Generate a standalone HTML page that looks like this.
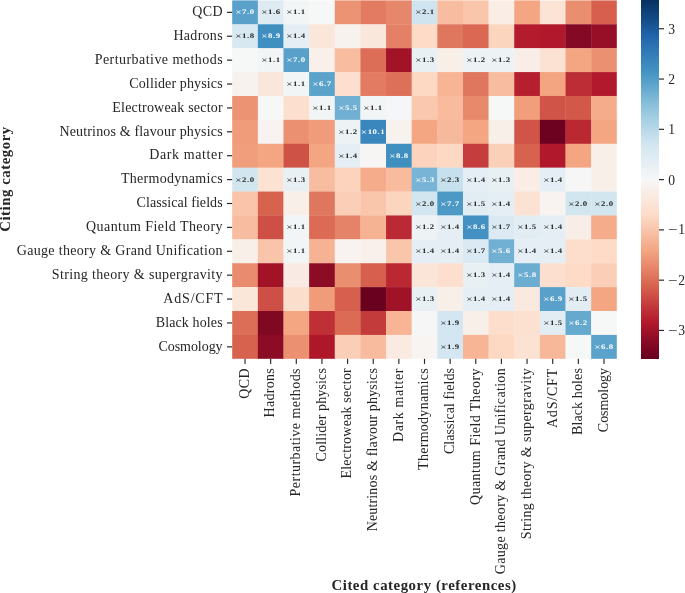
<!DOCTYPE html>
<html><head><meta charset="utf-8"><title>heatmap</title>
<style>
html,body{margin:0;padding:0;background:#fff;}
#tx{position:absolute;left:0;top:0;width:685px;height:593px;will-change:opacity;opacity:0.999;}
body{width:685px;height:593px;position:relative;overflow:hidden;font-family:"Liberation Serif",serif;color:#262626;}
.yl{position:absolute;right:462.4px;white-space:nowrap;font-size:14px;line-height:16px;height:16px;transform-origin:100% 50%;}
.xl{position:absolute;white-space:nowrap;font-size:14px;line-height:16px;height:16px;transform-origin:0 0;}
.an{position:absolute;white-space:nowrap;font-size:7px;font-weight:bold;line-height:10px;height:10px;width:26px;text-align:center;letter-spacing:0.4px;transform:rotate(0.05deg) scale(1.26,1);}
.an .x{font-weight:normal;font-size:8.8px;line-height:0;position:relative;top:1.1px;}
.cbl{position:absolute;left:668.2px;white-space:nowrap;font-size:13.6px;line-height:16px;height:16px;}
.mn{display:inline-block;transform:scaleX(1.25);transform-origin:0 50%;margin-right:2.3px;}
.ttl{position:absolute;white-space:nowrap;font-size:14.8px;font-weight:bold;line-height:16px;height:16px;letter-spacing:0.55px;}
</style></head><body>

<svg width="685" height="593" viewBox="0 0 685 593" style="position:absolute;left:0;top:0" shape-rendering="geometricPrecision">
<rect x="232.20" y="0.40" width="25.94" height="24.19" fill="#59a1ca"/>
<rect x="257.84" y="0.40" width="25.94" height="24.19" fill="#deebf2"/>
<rect x="283.48" y="0.40" width="25.94" height="24.19" fill="#f2f5f6"/>
<rect x="309.12" y="0.40" width="25.94" height="24.19" fill="#f6f7f7"/>
<rect x="334.76" y="0.40" width="25.94" height="24.19" fill="#ec9374"/>
<rect x="360.40" y="0.40" width="25.94" height="24.19" fill="#e27b62"/>
<rect x="386.04" y="0.40" width="25.94" height="24.19" fill="#e6866a"/>
<rect x="411.68" y="0.40" width="25.94" height="24.19" fill="#cfe4ef"/>
<rect x="437.32" y="0.40" width="25.94" height="24.19" fill="#f8bda1"/>
<rect x="462.96" y="0.40" width="25.94" height="24.19" fill="#f9c6ac"/>
<rect x="488.60" y="0.40" width="25.94" height="24.19" fill="#f9ede5"/>
<rect x="514.24" y="0.40" width="25.94" height="24.19" fill="#f4a683"/>
<rect x="539.88" y="0.40" width="25.94" height="24.19" fill="#fbe4d6"/>
<rect x="565.52" y="0.40" width="25.94" height="24.19" fill="#ea8e70"/>
<rect x="591.16" y="0.40" width="25.64" height="24.19" fill="#d6604d"/>
<rect x="232.20" y="24.29" width="25.94" height="24.19" fill="#d7e8f1"/>
<rect x="257.84" y="24.29" width="25.94" height="24.19" fill="#408fc1"/>
<rect x="283.48" y="24.29" width="25.94" height="24.19" fill="#e4eef4"/>
<rect x="309.12" y="24.29" width="25.94" height="24.19" fill="#fbe6da"/>
<rect x="334.76" y="24.29" width="25.94" height="24.19" fill="#f8f2ef"/>
<rect x="360.40" y="24.29" width="25.94" height="24.19" fill="#fae7dc"/>
<rect x="386.04" y="24.29" width="25.94" height="24.19" fill="#e48066"/>
<rect x="411.68" y="24.29" width="25.94" height="24.19" fill="#fddbc7"/>
<rect x="437.32" y="24.29" width="25.94" height="24.19" fill="#df765e"/>
<rect x="462.96" y="24.29" width="25.94" height="24.19" fill="#da6853"/>
<rect x="488.60" y="24.29" width="25.94" height="24.19" fill="#fcd5bf"/>
<rect x="514.24" y="24.29" width="25.94" height="24.19" fill="#b41c2d"/>
<rect x="539.88" y="24.29" width="25.94" height="24.19" fill="#b1182b"/>
<rect x="565.52" y="24.29" width="25.94" height="24.19" fill="#840924"/>
<rect x="591.16" y="24.29" width="25.64" height="24.19" fill="#960f27"/>
<rect x="232.20" y="48.19" width="25.94" height="24.19" fill="#f6f7f7"/>
<rect x="257.84" y="48.19" width="25.94" height="24.19" fill="#f2f5f6"/>
<rect x="283.48" y="48.19" width="25.94" height="24.19" fill="#59a1ca"/>
<rect x="309.12" y="48.19" width="25.94" height="24.19" fill="#f9f0eb"/>
<rect x="334.76" y="48.19" width="25.94" height="24.19" fill="#f8bda1"/>
<rect x="360.40" y="48.19" width="25.94" height="24.19" fill="#dc6e57"/>
<rect x="386.04" y="48.19" width="25.94" height="24.19" fill="#a21328"/>
<rect x="411.68" y="48.19" width="25.94" height="24.19" fill="#e9f0f4"/>
<rect x="437.32" y="48.19" width="25.94" height="24.19" fill="#f9efe9"/>
<rect x="462.96" y="48.19" width="25.94" height="24.19" fill="#edf2f5"/>
<rect x="488.60" y="48.19" width="25.94" height="24.19" fill="#edf2f5"/>
<rect x="514.24" y="48.19" width="25.94" height="24.19" fill="#f9eee7"/>
<rect x="539.88" y="48.19" width="25.94" height="24.19" fill="#fce2d2"/>
<rect x="565.52" y="48.19" width="25.94" height="24.19" fill="#f4a683"/>
<rect x="591.16" y="48.19" width="25.64" height="24.19" fill="#eb9172"/>
<rect x="232.20" y="72.08" width="25.94" height="24.19" fill="#f8f2ef"/>
<rect x="257.84" y="72.08" width="25.94" height="24.19" fill="#fae7dc"/>
<rect x="283.48" y="72.08" width="25.94" height="24.19" fill="#f2f5f6"/>
<rect x="309.12" y="72.08" width="25.94" height="24.19" fill="#5ca3cb"/>
<rect x="334.76" y="72.08" width="25.94" height="24.19" fill="#fcdfcf"/>
<rect x="360.40" y="72.08" width="25.94" height="24.19" fill="#e27b62"/>
<rect x="386.04" y="72.08" width="25.94" height="24.19" fill="#dd7059"/>
<rect x="411.68" y="72.08" width="25.94" height="24.19" fill="#fdd9c4"/>
<rect x="437.32" y="72.08" width="25.94" height="24.19" fill="#f7b596"/>
<rect x="462.96" y="72.08" width="25.94" height="24.19" fill="#df765e"/>
<rect x="488.60" y="72.08" width="25.94" height="24.19" fill="#f8bda1"/>
<rect x="514.24" y="72.08" width="25.94" height="24.19" fill="#b61f2e"/>
<rect x="539.88" y="72.08" width="25.94" height="24.19" fill="#f3a481"/>
<rect x="565.52" y="72.08" width="25.94" height="24.19" fill="#bd2d35"/>
<rect x="591.16" y="72.08" width="25.64" height="24.19" fill="#b3192c"/>
<rect x="232.20" y="95.97" width="25.94" height="24.19" fill="#ec9374"/>
<rect x="257.84" y="95.97" width="25.94" height="24.19" fill="#f6f7f7"/>
<rect x="283.48" y="95.97" width="25.94" height="24.19" fill="#fcdfcf"/>
<rect x="309.12" y="95.97" width="25.94" height="24.19" fill="#f2f5f6"/>
<rect x="334.76" y="95.97" width="25.94" height="24.19" fill="#71b0d3"/>
<rect x="360.40" y="95.97" width="25.94" height="24.19" fill="#f2f5f6"/>
<rect x="386.04" y="95.97" width="25.94" height="24.19" fill="#f5f6f7"/>
<rect x="411.68" y="95.97" width="25.94" height="24.19" fill="#fac8af"/>
<rect x="437.32" y="95.97" width="25.94" height="24.19" fill="#f8bb9e"/>
<rect x="462.96" y="95.97" width="25.94" height="24.19" fill="#e8896c"/>
<rect x="488.60" y="95.97" width="25.94" height="24.19" fill="#f6f7f7"/>
<rect x="514.24" y="95.97" width="25.94" height="24.19" fill="#f19e7d"/>
<rect x="539.88" y="95.97" width="25.94" height="24.19" fill="#d05548"/>
<rect x="565.52" y="95.97" width="25.94" height="24.19" fill="#d25849"/>
<rect x="591.16" y="95.97" width="25.64" height="24.19" fill="#f5ac8b"/>
<rect x="232.20" y="119.87" width="25.94" height="24.19" fill="#f09c7b"/>
<rect x="257.84" y="119.87" width="25.94" height="24.19" fill="#f8f3f0"/>
<rect x="283.48" y="119.87" width="25.94" height="24.19" fill="#eb9172"/>
<rect x="309.12" y="119.87" width="25.94" height="24.19" fill="#f09c7b"/>
<rect x="334.76" y="119.87" width="25.94" height="24.19" fill="#edf2f5"/>
<rect x="360.40" y="119.87" width="25.94" height="24.19" fill="#3a87bd"/>
<rect x="386.04" y="119.87" width="25.94" height="24.19" fill="#f8f2ef"/>
<rect x="411.68" y="119.87" width="25.94" height="24.19" fill="#f4a683"/>
<rect x="437.32" y="119.87" width="25.94" height="24.19" fill="#f7b99c"/>
<rect x="462.96" y="119.87" width="25.94" height="24.19" fill="#f4a683"/>
<rect x="488.60" y="119.87" width="25.94" height="24.19" fill="#f9efe9"/>
<rect x="514.24" y="119.87" width="25.94" height="24.19" fill="#d05548"/>
<rect x="539.88" y="119.87" width="25.94" height="24.19" fill="#6d0220"/>
<rect x="565.52" y="119.87" width="25.94" height="24.19" fill="#ba2832"/>
<rect x="591.16" y="119.87" width="25.64" height="24.19" fill="#f4a683"/>
<rect x="232.20" y="143.76" width="25.94" height="24.19" fill="#f19e7d"/>
<rect x="257.84" y="143.76" width="25.94" height="24.19" fill="#f4a683"/>
<rect x="283.48" y="143.76" width="25.94" height="24.19" fill="#cf5246"/>
<rect x="309.12" y="143.76" width="25.94" height="24.19" fill="#f4a683"/>
<rect x="334.76" y="143.76" width="25.94" height="24.19" fill="#e4eef4"/>
<rect x="360.40" y="143.76" width="25.94" height="24.19" fill="#f7f5f4"/>
<rect x="386.04" y="143.76" width="25.94" height="24.19" fill="#408fc1"/>
<rect x="411.68" y="143.76" width="25.94" height="24.19" fill="#fcd3bc"/>
<rect x="437.32" y="143.76" width="25.94" height="24.19" fill="#fdd9c4"/>
<rect x="462.96" y="143.76" width="25.94" height="24.19" fill="#c53e3d"/>
<rect x="488.60" y="143.76" width="25.94" height="24.19" fill="#fbd0b9"/>
<rect x="514.24" y="143.76" width="25.94" height="24.19" fill="#d7634f"/>
<rect x="539.88" y="143.76" width="25.94" height="24.19" fill="#b1182b"/>
<rect x="565.52" y="143.76" width="25.94" height="24.19" fill="#f4a683"/>
<rect x="591.16" y="143.76" width="25.64" height="24.19" fill="#f9efe9"/>
<rect x="232.20" y="167.65" width="25.94" height="24.19" fill="#d2e6f0"/>
<rect x="257.84" y="167.65" width="25.94" height="24.19" fill="#fce2d2"/>
<rect x="283.48" y="167.65" width="25.94" height="24.19" fill="#e9f0f4"/>
<rect x="309.12" y="167.65" width="25.94" height="24.19" fill="#f8bda1"/>
<rect x="334.76" y="167.65" width="25.94" height="24.19" fill="#fcd3bc"/>
<rect x="360.40" y="167.65" width="25.94" height="24.19" fill="#f5ac8b"/>
<rect x="386.04" y="167.65" width="25.94" height="24.19" fill="#f8bb9e"/>
<rect x="411.68" y="167.65" width="25.94" height="24.19" fill="#78b4d5"/>
<rect x="437.32" y="167.65" width="25.94" height="24.19" fill="#c7e0ed"/>
<rect x="462.96" y="167.65" width="25.94" height="24.19" fill="#e4eef4"/>
<rect x="488.60" y="167.65" width="25.94" height="24.19" fill="#e9f0f4"/>
<rect x="514.24" y="167.65" width="25.94" height="24.19" fill="#f9ede5"/>
<rect x="539.88" y="167.65" width="25.94" height="24.19" fill="#e4eef4"/>
<rect x="565.52" y="167.65" width="25.94" height="24.19" fill="#f7f6f6"/>
<rect x="591.16" y="167.65" width="25.64" height="24.19" fill="#f9efe9"/>
<rect x="232.20" y="191.55" width="25.94" height="24.19" fill="#f9c4a9"/>
<rect x="257.84" y="191.55" width="25.94" height="24.19" fill="#d7634f"/>
<rect x="283.48" y="191.55" width="25.94" height="24.19" fill="#f9efe9"/>
<rect x="309.12" y="191.55" width="25.94" height="24.19" fill="#df765e"/>
<rect x="334.76" y="191.55" width="25.94" height="24.19" fill="#fbceb7"/>
<rect x="360.40" y="191.55" width="25.94" height="24.19" fill="#f9c6ac"/>
<rect x="386.04" y="191.55" width="25.94" height="24.19" fill="#fcd5bf"/>
<rect x="411.68" y="191.55" width="25.94" height="24.19" fill="#d2e6f0"/>
<rect x="437.32" y="191.55" width="25.94" height="24.19" fill="#4c99c6"/>
<rect x="462.96" y="191.55" width="25.94" height="24.19" fill="#e1edf3"/>
<rect x="488.60" y="191.55" width="25.94" height="24.19" fill="#e4eef4"/>
<rect x="514.24" y="191.55" width="25.94" height="24.19" fill="#fce2d2"/>
<rect x="539.88" y="191.55" width="25.94" height="24.19" fill="#f8f3f0"/>
<rect x="565.52" y="191.55" width="25.94" height="24.19" fill="#d2e6f0"/>
<rect x="591.16" y="191.55" width="25.64" height="24.19" fill="#d2e6f0"/>
<rect x="232.20" y="215.44" width="25.94" height="24.19" fill="#f8bda1"/>
<rect x="257.84" y="215.44" width="25.94" height="24.19" fill="#ce4f45"/>
<rect x="283.48" y="215.44" width="25.94" height="24.19" fill="#f2f5f6"/>
<rect x="309.12" y="215.44" width="25.94" height="24.19" fill="#db6b55"/>
<rect x="334.76" y="215.44" width="25.94" height="24.19" fill="#e58368"/>
<rect x="360.40" y="215.44" width="25.94" height="24.19" fill="#f6b394"/>
<rect x="386.04" y="215.44" width="25.94" height="24.19" fill="#bb2a34"/>
<rect x="411.68" y="215.44" width="25.94" height="24.19" fill="#edf2f5"/>
<rect x="437.32" y="215.44" width="25.94" height="24.19" fill="#e4eef4"/>
<rect x="462.96" y="215.44" width="25.94" height="24.19" fill="#4291c2"/>
<rect x="488.60" y="215.44" width="25.94" height="24.19" fill="#dae9f2"/>
<rect x="514.24" y="215.44" width="25.94" height="24.19" fill="#e1edf3"/>
<rect x="539.88" y="215.44" width="25.94" height="24.19" fill="#e4eef4"/>
<rect x="565.52" y="215.44" width="25.94" height="24.19" fill="#f9eee7"/>
<rect x="591.16" y="215.44" width="25.64" height="24.19" fill="#f5ac8b"/>
<rect x="232.20" y="239.33" width="25.94" height="24.19" fill="#f9efe9"/>
<rect x="257.84" y="239.33" width="25.94" height="24.19" fill="#f9c4a9"/>
<rect x="283.48" y="239.33" width="25.94" height="24.19" fill="#f2f5f6"/>
<rect x="309.12" y="239.33" width="25.94" height="24.19" fill="#f6b394"/>
<rect x="334.76" y="239.33" width="25.94" height="24.19" fill="#f8f3f0"/>
<rect x="360.40" y="239.33" width="25.94" height="24.19" fill="#f9f0eb"/>
<rect x="386.04" y="239.33" width="25.94" height="24.19" fill="#f9c6ac"/>
<rect x="411.68" y="239.33" width="25.94" height="24.19" fill="#e4eef4"/>
<rect x="437.32" y="239.33" width="25.94" height="24.19" fill="#e4eef4"/>
<rect x="462.96" y="239.33" width="25.94" height="24.19" fill="#dae9f2"/>
<rect x="488.60" y="239.33" width="25.94" height="24.19" fill="#71b0d3"/>
<rect x="514.24" y="239.33" width="25.94" height="24.19" fill="#e4eef4"/>
<rect x="539.88" y="239.33" width="25.94" height="24.19" fill="#e4eef4"/>
<rect x="565.52" y="239.33" width="25.94" height="24.19" fill="#fdddcb"/>
<rect x="591.16" y="239.33" width="25.64" height="24.19" fill="#fddbc7"/>
<rect x="232.20" y="263.23" width="25.94" height="24.19" fill="#e98b6e"/>
<rect x="257.84" y="263.23" width="25.94" height="24.19" fill="#a21328"/>
<rect x="283.48" y="263.23" width="25.94" height="24.19" fill="#f9ebe3"/>
<rect x="309.12" y="263.23" width="25.94" height="24.19" fill="#8d0c25"/>
<rect x="334.76" y="263.23" width="25.94" height="24.19" fill="#ea8e70"/>
<rect x="360.40" y="263.23" width="25.94" height="24.19" fill="#d6604d"/>
<rect x="386.04" y="263.23" width="25.94" height="24.19" fill="#ba2832"/>
<rect x="411.68" y="263.23" width="25.94" height="24.19" fill="#fbe5d8"/>
<rect x="437.32" y="263.23" width="25.94" height="24.19" fill="#fcdfcf"/>
<rect x="462.96" y="263.23" width="25.94" height="24.19" fill="#e9f0f4"/>
<rect x="488.60" y="263.23" width="25.94" height="24.19" fill="#e4eef4"/>
<rect x="514.24" y="263.23" width="25.94" height="24.19" fill="#6bacd1"/>
<rect x="539.88" y="263.23" width="25.94" height="24.19" fill="#fcdfcf"/>
<rect x="565.52" y="263.23" width="25.94" height="24.19" fill="#fddbc7"/>
<rect x="591.16" y="263.23" width="25.64" height="24.19" fill="#fbceb7"/>
<rect x="232.20" y="287.12" width="25.94" height="24.19" fill="#fbe6da"/>
<rect x="257.84" y="287.12" width="25.94" height="24.19" fill="#ce4f45"/>
<rect x="283.48" y="287.12" width="25.94" height="24.19" fill="#fcdecd"/>
<rect x="309.12" y="287.12" width="25.94" height="24.19" fill="#f09c7b"/>
<rect x="334.76" y="287.12" width="25.94" height="24.19" fill="#d6604d"/>
<rect x="360.40" y="287.12" width="25.94" height="24.19" fill="#6a011f"/>
<rect x="386.04" y="287.12" width="25.94" height="24.19" fill="#9f1228"/>
<rect x="411.68" y="287.12" width="25.94" height="24.19" fill="#e9f0f4"/>
<rect x="437.32" y="287.12" width="25.94" height="24.19" fill="#f9efe9"/>
<rect x="462.96" y="287.12" width="25.94" height="24.19" fill="#e4eef4"/>
<rect x="488.60" y="287.12" width="25.94" height="24.19" fill="#e4eef4"/>
<rect x="514.24" y="287.12" width="25.94" height="24.19" fill="#fae9df"/>
<rect x="539.88" y="287.12" width="25.94" height="24.19" fill="#59a1ca"/>
<rect x="565.52" y="287.12" width="25.94" height="24.19" fill="#e1edf3"/>
<rect x="591.16" y="287.12" width="25.64" height="24.19" fill="#f4a683"/>
<rect x="232.20" y="311.01" width="25.94" height="24.19" fill="#dc6e57"/>
<rect x="257.84" y="311.01" width="25.94" height="24.19" fill="#810823"/>
<rect x="283.48" y="311.01" width="25.94" height="24.19" fill="#f4a683"/>
<rect x="309.12" y="311.01" width="25.94" height="24.19" fill="#be3036"/>
<rect x="334.76" y="311.01" width="25.94" height="24.19" fill="#db6b55"/>
<rect x="360.40" y="311.01" width="25.94" height="24.19" fill="#c43b3c"/>
<rect x="386.04" y="311.01" width="25.94" height="24.19" fill="#f7b596"/>
<rect x="411.68" y="311.01" width="25.94" height="24.19" fill="#f7f6f6"/>
<rect x="437.32" y="311.01" width="25.94" height="24.19" fill="#d4e6f1"/>
<rect x="462.96" y="311.01" width="25.94" height="24.19" fill="#f9efe9"/>
<rect x="488.60" y="311.01" width="25.94" height="24.19" fill="#fdddcb"/>
<rect x="514.24" y="311.01" width="25.94" height="24.19" fill="#fce0d0"/>
<rect x="539.88" y="311.01" width="25.94" height="24.19" fill="#e1edf3"/>
<rect x="565.52" y="311.01" width="25.94" height="24.19" fill="#65a9cf"/>
<rect x="591.16" y="311.01" width="25.64" height="24.19" fill="#f6f7f7"/>
<rect x="232.20" y="334.91" width="25.94" height="23.89" fill="#d7634f"/>
<rect x="257.84" y="334.91" width="25.94" height="23.89" fill="#8d0c25"/>
<rect x="283.48" y="334.91" width="25.94" height="23.89" fill="#eb9172"/>
<rect x="309.12" y="334.91" width="25.94" height="23.89" fill="#ae172a"/>
<rect x="334.76" y="334.91" width="25.94" height="23.89" fill="#fbceb7"/>
<rect x="360.40" y="334.91" width="25.94" height="23.89" fill="#f8bb9e"/>
<rect x="386.04" y="334.91" width="25.94" height="23.89" fill="#faeae1"/>
<rect x="411.68" y="334.91" width="25.94" height="23.89" fill="#f8f4f2"/>
<rect x="437.32" y="334.91" width="25.94" height="23.89" fill="#d4e6f1"/>
<rect x="462.96" y="334.91" width="25.94" height="23.89" fill="#f7b596"/>
<rect x="488.60" y="334.91" width="25.94" height="23.89" fill="#fdd9c4"/>
<rect x="514.24" y="334.91" width="25.94" height="23.89" fill="#fce2d2"/>
<rect x="539.88" y="334.91" width="25.94" height="23.89" fill="#f7b799"/>
<rect x="565.52" y="334.91" width="25.94" height="23.89" fill="#f6f7f7"/>
<rect x="591.16" y="334.91" width="25.64" height="23.89" fill="#5ca3cb"/>
<rect x="227.0" y="11.77" width="5.1" height="1.15" fill="#262626" shape-rendering="geometricPrecision"/>
<rect x="244.44" y="358.80" width="1.15" height="5.1" fill="#262626" shape-rendering="geometricPrecision"/>
<rect x="227.0" y="35.66" width="5.1" height="1.15" fill="#262626" shape-rendering="geometricPrecision"/>
<rect x="270.08" y="358.80" width="1.15" height="5.1" fill="#262626" shape-rendering="geometricPrecision"/>
<rect x="227.0" y="59.56" width="5.1" height="1.15" fill="#262626" shape-rendering="geometricPrecision"/>
<rect x="295.72" y="358.80" width="1.15" height="5.1" fill="#262626" shape-rendering="geometricPrecision"/>
<rect x="227.0" y="83.45" width="5.1" height="1.15" fill="#262626" shape-rendering="geometricPrecision"/>
<rect x="321.37" y="358.80" width="1.15" height="5.1" fill="#262626" shape-rendering="geometricPrecision"/>
<rect x="227.0" y="107.35" width="5.1" height="1.15" fill="#262626" shape-rendering="geometricPrecision"/>
<rect x="347.00" y="358.80" width="1.15" height="5.1" fill="#262626" shape-rendering="geometricPrecision"/>
<rect x="227.0" y="131.24" width="5.1" height="1.15" fill="#262626" shape-rendering="geometricPrecision"/>
<rect x="372.64" y="358.80" width="1.15" height="5.1" fill="#262626" shape-rendering="geometricPrecision"/>
<rect x="227.0" y="155.13" width="5.1" height="1.15" fill="#262626" shape-rendering="geometricPrecision"/>
<rect x="398.28" y="358.80" width="1.15" height="5.1" fill="#262626" shape-rendering="geometricPrecision"/>
<rect x="227.0" y="179.03" width="5.1" height="1.15" fill="#262626" shape-rendering="geometricPrecision"/>
<rect x="423.93" y="358.80" width="1.15" height="5.1" fill="#262626" shape-rendering="geometricPrecision"/>
<rect x="227.0" y="202.92" width="5.1" height="1.15" fill="#262626" shape-rendering="geometricPrecision"/>
<rect x="449.56" y="358.80" width="1.15" height="5.1" fill="#262626" shape-rendering="geometricPrecision"/>
<rect x="227.0" y="226.81" width="5.1" height="1.15" fill="#262626" shape-rendering="geometricPrecision"/>
<rect x="475.20" y="358.80" width="1.15" height="5.1" fill="#262626" shape-rendering="geometricPrecision"/>
<rect x="227.0" y="250.71" width="5.1" height="1.15" fill="#262626" shape-rendering="geometricPrecision"/>
<rect x="500.84" y="358.80" width="1.15" height="5.1" fill="#262626" shape-rendering="geometricPrecision"/>
<rect x="227.0" y="274.60" width="5.1" height="1.15" fill="#262626" shape-rendering="geometricPrecision"/>
<rect x="526.48" y="358.80" width="1.15" height="5.1" fill="#262626" shape-rendering="geometricPrecision"/>
<rect x="227.0" y="298.49" width="5.1" height="1.15" fill="#262626" shape-rendering="geometricPrecision"/>
<rect x="552.12" y="358.80" width="1.15" height="5.1" fill="#262626" shape-rendering="geometricPrecision"/>
<rect x="227.0" y="322.38" width="5.1" height="1.15" fill="#262626" shape-rendering="geometricPrecision"/>
<rect x="577.76" y="358.80" width="1.15" height="5.1" fill="#262626" shape-rendering="geometricPrecision"/>
<rect x="227.0" y="346.28" width="5.1" height="1.15" fill="#262626" shape-rendering="geometricPrecision"/>
<rect x="603.40" y="358.80" width="1.15" height="5.1" fill="#262626" shape-rendering="geometricPrecision"/>
<rect x="658.90" y="329.87" width="5.1" height="1.15" fill="#262626" shape-rendering="geometricPrecision"/>
<rect x="658.90" y="279.59" width="5.1" height="1.15" fill="#262626" shape-rendering="geometricPrecision"/>
<rect x="658.90" y="229.31" width="5.1" height="1.15" fill="#262626" shape-rendering="geometricPrecision"/>
<rect x="658.90" y="179.03" width="5.1" height="1.15" fill="#262626" shape-rendering="geometricPrecision"/>
<rect x="658.90" y="128.74" width="5.1" height="1.15" fill="#262626" shape-rendering="geometricPrecision"/>
<rect x="658.90" y="78.46" width="5.1" height="1.15" fill="#262626" shape-rendering="geometricPrecision"/>
<rect x="658.90" y="28.18" width="5.1" height="1.15" fill="#262626" shape-rendering="geometricPrecision"/>
</svg>
<div id="tx">
<div style="position:absolute;left:640.8px;top:0.4px;width:18.1px;height:358.4px;background:linear-gradient(to bottom,#053061 0%,#124984 5%,#2065ab 10%,#327cb7 15%,#4393c3 20%,#68abd0 25%,#90c4dd 30%,#b1d5e7 35%,#d1e5f0 40%,#e4eef4 45%,#f6f7f7 50%,#fae9df 55%,#fddbc7 60%,#f8bfa4 65%,#f3a481 70%,#e58368 75%,#d6604d 80%,#c43b3c 85%,#b1182b 90%,#8a0b25 95%,#67001f 100%)"></div>
<div class="yl" id="yl0" style="top:4.30px;letter-spacing:0.39px;margin-right:-0.39px">QCD</div>
<div class="yl" id="yl1" style="top:28.30px;letter-spacing:0.28px;margin-right:-0.28px">Hadrons</div>
<div class="yl" id="yl2" style="top:52.30px;letter-spacing:0.45px;margin-right:-0.45px">Perturbative methods</div>
<div class="yl" id="yl3" style="top:76.30px;letter-spacing:0.13px;margin-right:-0.13px">Collider physics</div>
<div class="yl" id="yl4" style="top:100.30px;letter-spacing:0.2px;margin-right:-0.2px">Electroweak sector</div>
<div class="yl" id="yl5" style="top:124.30px;letter-spacing:0.16px;margin-right:-0.16px">Neutrinos &amp; flavour physics</div>
<div class="yl" id="yl6" style="top:147.30px;letter-spacing:0.61px;margin-right:-0.61px">Dark matter</div>
<div class="yl" id="yl7" style="top:171.30px;letter-spacing:0.28px;margin-right:-0.28px">Thermodynamics</div>
<div class="yl" id="yl8" style="top:195.30px;letter-spacing:0.06px;margin-right:-0.06px">Classical fields</div>
<div class="yl" id="yl9" style="top:219.30px;letter-spacing:0.45px;margin-right:-0.45px">Quantum Field Theory</div>
<div class="yl" id="yl10" style="top:243.30px;letter-spacing:0.32px;margin-right:-0.32px">Gauge theory &amp; Grand Unification</div>
<div class="yl" id="yl11" style="top:267.30px;letter-spacing:0.36px;margin-right:-0.36px">String theory &amp; supergravity</div>
<div class="yl" id="yl12" style="top:291.30px;letter-spacing:0.8px;margin-right:-0.8px">AdS/CFT</div>
<div class="yl" id="yl13" style="top:315.30px;letter-spacing:0.12px;margin-right:-0.12px">Black holes</div>
<div class="yl" id="yl14" style="top:339.30px;letter-spacing:-0.05px;margin-right:0.05px">Cosmology</div>
<div class="xl" id="xl0" style="left:236.82px;top:367.91px;letter-spacing:0.39px;transform:rotate(-90deg) translate(-100%,0)">QCD</div>
<div class="xl" id="xl1" style="left:262.46px;top:368.02px;letter-spacing:0.28px;transform:rotate(-90deg) translate(-100%,0)">Hadrons</div>
<div class="xl" id="xl2" style="left:288.10px;top:367.85px;letter-spacing:0.45px;transform:rotate(-90deg) translate(-100%,0)">Perturbative methods</div>
<div class="xl" id="xl3" style="left:313.74px;top:368.17px;letter-spacing:0.13px;transform:rotate(-90deg) translate(-100%,0)">Collider physics</div>
<div class="xl" id="xl4" style="left:339.38px;top:368.10px;letter-spacing:0.2px;transform:rotate(-90deg) translate(-100%,0)">Electroweak sector</div>
<div class="xl" id="xl5" style="left:365.02px;top:368.14px;letter-spacing:0.16px;transform:rotate(-90deg) translate(-100%,0)">Neutrinos &amp; flavour physics</div>
<div class="xl" id="xl6" style="left:390.66px;top:367.69px;letter-spacing:0.61px;transform:rotate(-90deg) translate(-100%,0)">Dark matter</div>
<div class="xl" id="xl7" style="left:416.30px;top:368.02px;letter-spacing:0.28px;transform:rotate(-90deg) translate(-100%,0)">Thermodynamics</div>
<div class="xl" id="xl8" style="left:441.94px;top:368.24px;letter-spacing:0.06px;transform:rotate(-90deg) translate(-100%,0)">Classical fields</div>
<div class="xl" id="xl9" style="left:467.58px;top:367.85px;letter-spacing:0.45px;transform:rotate(-90deg) translate(-100%,0)">Quantum Field Theory</div>
<div class="xl" id="xl10" style="left:493.22px;top:367.98px;letter-spacing:0.32px;transform:rotate(-90deg) translate(-100%,0)">Gauge theory &amp; Grand Unification</div>
<div class="xl" id="xl11" style="left:518.86px;top:367.94px;letter-spacing:0.36px;transform:rotate(-90deg) translate(-100%,0)">String theory &amp; supergravity</div>
<div class="xl" id="xl12" style="left:544.50px;top:367.50px;letter-spacing:0.8px;transform:rotate(-90deg) translate(-100%,0)">AdS/CFT</div>
<div class="xl" id="xl13" style="left:570.14px;top:368.18px;letter-spacing:0.12px;transform:rotate(-90deg) translate(-100%,0)">Black holes</div>
<div class="xl" id="xl14" style="left:595.78px;top:368.35px;letter-spacing:-0.05px;transform:rotate(-90deg) translate(-100%,0)">Cosmology</div>
<div class="an" style="left:232.02px;top:7.45px;color:#fff"><span class="x">×</span>7.0</div>
<div class="an" style="left:257.66px;top:7.45px;color:#262626"><span class="x">×</span>1.6</div>
<div class="an" style="left:283.30px;top:7.45px;color:#262626"><span class="x">×</span>1.1</div>
<div class="an" style="left:411.50px;top:7.45px;color:#262626"><span class="x">×</span>2.1</div>
<div class="an" style="left:232.02px;top:31.34px;color:#262626"><span class="x">×</span>1.8</div>
<div class="an" style="left:257.66px;top:31.34px;color:#fff"><span class="x">×</span>8.9</div>
<div class="an" style="left:283.30px;top:31.34px;color:#262626"><span class="x">×</span>1.4</div>
<div class="an" style="left:257.66px;top:55.23px;color:#262626"><span class="x">×</span>1.1</div>
<div class="an" style="left:283.30px;top:55.23px;color:#fff"><span class="x">×</span>7.0</div>
<div class="an" style="left:411.50px;top:55.23px;color:#262626"><span class="x">×</span>1.3</div>
<div class="an" style="left:462.78px;top:55.23px;color:#262626"><span class="x">×</span>1.2</div>
<div class="an" style="left:488.42px;top:55.23px;color:#262626"><span class="x">×</span>1.2</div>
<div class="an" style="left:283.30px;top:79.13px;color:#262626"><span class="x">×</span>1.1</div>
<div class="an" style="left:308.94px;top:79.13px;color:#fff"><span class="x">×</span>6.7</div>
<div class="an" style="left:308.94px;top:103.02px;color:#262626"><span class="x">×</span>1.1</div>
<div class="an" style="left:334.58px;top:103.02px;color:#fff"><span class="x">×</span>5.5</div>
<div class="an" style="left:360.22px;top:103.02px;color:#262626"><span class="x">×</span>1.1</div>
<div class="an" style="left:334.58px;top:126.91px;color:#262626"><span class="x">×</span>1.2</div>
<div class="an" style="left:360.22px;top:126.91px;color:#fff"><span class="x">×</span>10.1</div>
<div class="an" style="left:334.58px;top:150.81px;color:#262626"><span class="x">×</span>1.4</div>
<div class="an" style="left:385.86px;top:150.81px;color:#fff"><span class="x">×</span>8.8</div>
<div class="an" style="left:232.02px;top:174.70px;color:#262626"><span class="x">×</span>2.0</div>
<div class="an" style="left:283.30px;top:174.70px;color:#262626"><span class="x">×</span>1.3</div>
<div class="an" style="left:411.50px;top:174.70px;color:#fff"><span class="x">×</span>5.3</div>
<div class="an" style="left:437.14px;top:174.70px;color:#262626"><span class="x">×</span>2.3</div>
<div class="an" style="left:462.78px;top:174.70px;color:#262626"><span class="x">×</span>1.4</div>
<div class="an" style="left:488.42px;top:174.70px;color:#262626"><span class="x">×</span>1.3</div>
<div class="an" style="left:539.70px;top:174.70px;color:#262626"><span class="x">×</span>1.4</div>
<div class="an" style="left:411.50px;top:198.59px;color:#262626"><span class="x">×</span>2.0</div>
<div class="an" style="left:437.14px;top:198.59px;color:#fff"><span class="x">×</span>7.7</div>
<div class="an" style="left:462.78px;top:198.59px;color:#262626"><span class="x">×</span>1.5</div>
<div class="an" style="left:488.42px;top:198.59px;color:#262626"><span class="x">×</span>1.4</div>
<div class="an" style="left:565.34px;top:198.59px;color:#262626"><span class="x">×</span>2.0</div>
<div class="an" style="left:590.98px;top:198.59px;color:#262626"><span class="x">×</span>2.0</div>
<div class="an" style="left:283.30px;top:222.49px;color:#262626"><span class="x">×</span>1.1</div>
<div class="an" style="left:411.50px;top:222.49px;color:#262626"><span class="x">×</span>1.2</div>
<div class="an" style="left:437.14px;top:222.49px;color:#262626"><span class="x">×</span>1.4</div>
<div class="an" style="left:462.78px;top:222.49px;color:#fff"><span class="x">×</span>8.6</div>
<div class="an" style="left:488.42px;top:222.49px;color:#262626"><span class="x">×</span>1.7</div>
<div class="an" style="left:514.06px;top:222.49px;color:#262626"><span class="x">×</span>1.5</div>
<div class="an" style="left:539.70px;top:222.49px;color:#262626"><span class="x">×</span>1.4</div>
<div class="an" style="left:283.30px;top:246.38px;color:#262626"><span class="x">×</span>1.1</div>
<div class="an" style="left:411.50px;top:246.38px;color:#262626"><span class="x">×</span>1.4</div>
<div class="an" style="left:437.14px;top:246.38px;color:#262626"><span class="x">×</span>1.4</div>
<div class="an" style="left:462.78px;top:246.38px;color:#262626"><span class="x">×</span>1.7</div>
<div class="an" style="left:488.42px;top:246.38px;color:#fff"><span class="x">×</span>5.6</div>
<div class="an" style="left:514.06px;top:246.38px;color:#262626"><span class="x">×</span>1.4</div>
<div class="an" style="left:539.70px;top:246.38px;color:#262626"><span class="x">×</span>1.4</div>
<div class="an" style="left:462.78px;top:270.27px;color:#262626"><span class="x">×</span>1.3</div>
<div class="an" style="left:488.42px;top:270.27px;color:#262626"><span class="x">×</span>1.4</div>
<div class="an" style="left:514.06px;top:270.27px;color:#fff"><span class="x">×</span>5.8</div>
<div class="an" style="left:411.50px;top:294.17px;color:#262626"><span class="x">×</span>1.3</div>
<div class="an" style="left:462.78px;top:294.17px;color:#262626"><span class="x">×</span>1.4</div>
<div class="an" style="left:488.42px;top:294.17px;color:#262626"><span class="x">×</span>1.4</div>
<div class="an" style="left:539.70px;top:294.17px;color:#fff"><span class="x">×</span>6.9</div>
<div class="an" style="left:565.34px;top:294.17px;color:#262626"><span class="x">×</span>1.5</div>
<div class="an" style="left:437.14px;top:318.06px;color:#262626"><span class="x">×</span>1.9</div>
<div class="an" style="left:539.70px;top:318.06px;color:#262626"><span class="x">×</span>1.5</div>
<div class="an" style="left:565.34px;top:318.06px;color:#fff"><span class="x">×</span>6.2</div>
<div class="an" style="left:437.14px;top:341.95px;color:#262626"><span class="x">×</span>1.9</div>
<div class="an" style="left:590.98px;top:341.95px;color:#fff"><span class="x">×</span>6.8</div>
<div class="cbl" style="top:322.84px"><span class="mn">−</span>3</div>
<div class="cbl" style="top:272.56px"><span class="mn">−</span>2</div>
<div class="cbl" style="top:222.28px"><span class="mn">−</span>1</div>
<div class="cbl" style="top:172.60px">0</div>
<div class="cbl" style="top:122.32px">1</div>
<div class="cbl" style="top:72.04px">2</div>
<div class="cbl" style="top:21.76px">3</div>
<div class="ttl" id="yt" style="left:-3.2px;top:178.9px;transform-origin:0 0;transform:rotate(-90deg) translate(-50%,0)">Citing category</div>
<div class="ttl" id="xt" style="left:424.1px;top:576.6px;transform:translate(-50%,0)">Cited category (references)</div>
</div>
</body></html>
